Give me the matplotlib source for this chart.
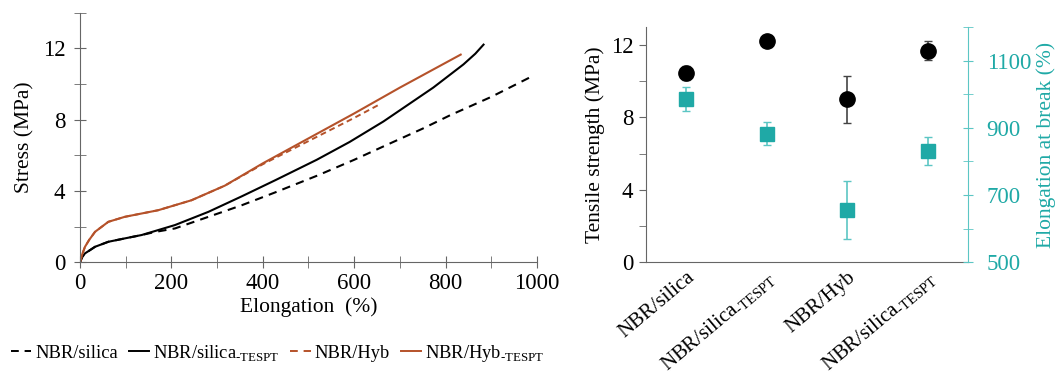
import matplotlib.pyplot as plt
from matplotlib.lines import Line2D
from matplotlib.ticker import MultipleLocator

plt.rcParams['font.family'] = ['Liberation Serif', 'DejaVu Serif']
plt.rcParams['mathtext.fontset'] = 'custom'
plt.rcParams['mathtext.rm'] = 'Liberation Serif'

# stress-strain curves (elongation %, stress MPa)
silica_x = [0, 5, 11, 20, 33, 62, 100, 135, 164, 208, 281, 354, 427, 518, 600, 664, 750, 810, 900, 985]
silica_y = [0, 0.3, 0.5, 0.65, 0.87, 1.15, 1.35, 1.53, 1.7, 1.9, 2.55, 3.2, 3.92, 4.85, 5.75, 6.5, 7.5, 8.25, 9.28, 10.38]

tespt_x = [0, 5, 11, 20, 33, 62, 100, 135, 208, 281, 354, 427, 518, 590, 664, 773, 839, 865, 883]
tespt_y = [0, 0.3, 0.5, 0.65, 0.87, 1.15, 1.35, 1.53, 2.09, 2.83, 3.7, 4.6, 5.75, 6.75, 7.9, 9.8, 11.1, 11.7, 12.21]

hyb_x = [0, 5, 11, 20, 33, 62, 98, 171, 244, 317, 400, 500, 600, 655]
hyb_y = [0, 0.45, 0.87, 1.25, 1.71, 2.27, 2.55, 2.92, 3.48, 4.3, 5.5, 6.8, 8.1, 8.85]

hybt_x = [0, 5, 11, 20, 33, 62, 98, 171, 244, 317, 400, 500, 600, 700, 833]
hybt_y = [0, 0.45, 0.87, 1.25, 1.71, 2.27, 2.55, 2.92, 3.48, 4.3, 5.55, 6.95, 8.35, 9.8, 11.65]

# tensile properties
cats = ['NBR/silica', r'NBR/silica$_{\text{-TESPT}}$', 'NBR/Hyb', r'NBR/silica$_{\text{-TESPT}}$']
tensile = [10.45, 12.2, 9.0, 11.7]
tensile_err = [0.4, 0.15, 1.3, 0.55]
elong = [986, 883, 656, 831]
elong_err = [35, 33, 87, 41]

brown = '#b5522a'
teal = '#1fa9a6'
teal_light = '#5cc6c4'
grey = '#666666'

fig = plt.figure(figsize=(10.59, 3.76), dpi=100)

# left panel
ax1 = fig.add_axes([0.0755, 0.3024, 0.4316, 0.6638])
ax1.plot(silica_x, silica_y, color='black', lw=1.5, ls=(0, (4, 3)))
ax1.plot(tespt_x, tespt_y, color='black', lw=1.5)
ax1.plot(hyb_x, hyb_y, color=brown, lw=1.4, ls=(0, (3, 2)))
ax1.plot(hybt_x, hybt_y, color=brown, lw=1.5)
ax1.set_xlim(0, 1000)
ax1.set_ylim(0, 14)
ax1.set_xticks([0, 200, 400, 600, 800, 1000])
ax1.xaxis.set_minor_locator(MultipleLocator(100))
ax1.set_yticks([0, 4, 8, 12])
ax1.yaxis.set_minor_locator(MultipleLocator(2))
for s in ['top', 'right']:
    ax1.spines[s].set_visible(False)
for s in ['left', 'bottom']:
    ax1.spines[s].set_color(grey)
ax1.tick_params(which='both', direction='inout', length=9, color=grey, labelsize=16.5)
ax1.tick_params(axis='y', pad=6)
ax1.set_xlabel('Elongation  (%)', fontsize=15.5, labelpad=2)
ax1.set_ylabel('Stress (MPa)', fontsize=15.5, labelpad=6)

handles = [Line2D([], [], color='black', lw=1.4, ls=(0, (4, 3))),
           Line2D([], [], color='black', lw=1.4),
           Line2D([], [], color=brown, lw=1.4, ls=(0, (4, 3))),
           Line2D([], [], color=brown, lw=1.4)]
labels = ['NBR/silica', r'NBR/silica$_{\text{-TESPT}}$',
          'NBR/Hyb', r'NBR/Hyb$_{\text{-TESPT}}$']
fig.legend(handles, labels, loc='center left', bbox_to_anchor=(0.0, 0.06),
           ncol=4, frameon=False, fontsize=13.3, handlelength=1.1,
           handletextpad=0.2, columnspacing=0.6, borderaxespad=0.2)

# right panel
ax2 = fig.add_axes([0.610, 0.3024, 0.304, 0.6258])
xs = list(range(len(cats)))
ax2.errorbar(xs, tensile, yerr=tensile_err, fmt='o', color='black', ms=11,
             ecolor='#444444', elinewidth=1.2, capsize=3)
ax2.set_xlim(-0.5, 3.5)
ax2.set_ylim(0, 13)
ax2.set_yticks([0, 4, 8, 12])
ax2.yaxis.set_minor_locator(MultipleLocator(2))
ax2.set_xticks(xs)
ax2.set_xticklabels(cats, rotation=40, ha='right', rotation_mode='anchor', fontsize=15)
ax2.tick_params(axis='x', length=0, pad=4)
ax2.tick_params(axis='y', which='both', direction='out', length=5, color=grey,
                labelsize=16.5, pad=4)
ax2.set_ylabel('Tensile strength (MPa)', fontsize=15.5, labelpad=4)
for s in ['top', 'right']:
    ax2.spines[s].set_visible(False)
for s in ['left', 'bottom']:
    ax2.spines[s].set_color(grey)

ax3 = ax2.twinx()
ax3.errorbar(xs, elong, yerr=elong_err, fmt='s', color=teal, ms=9.5,
             ecolor=teal_light, elinewidth=1.2, capsize=3)
ax3.set_ylim(500, 1200)
ax3.set_yticks([500, 700, 900, 1100])
ax3.yaxis.set_minor_locator(MultipleLocator(100))
ax3.tick_params(axis='y', which='both', direction='inout', length=7, color=teal_light,
                labelcolor=teal, labelsize=16.5, pad=10)
ax3.set_ylabel('Elongation at break (%)', fontsize=15.5, color=teal, labelpad=4)
for s in ['top', 'left', 'bottom']:
    ax3.spines[s].set_visible(False)
ax3.spines['right'].set_color(teal_light)

fig.savefig('out.png', dpi=100)
